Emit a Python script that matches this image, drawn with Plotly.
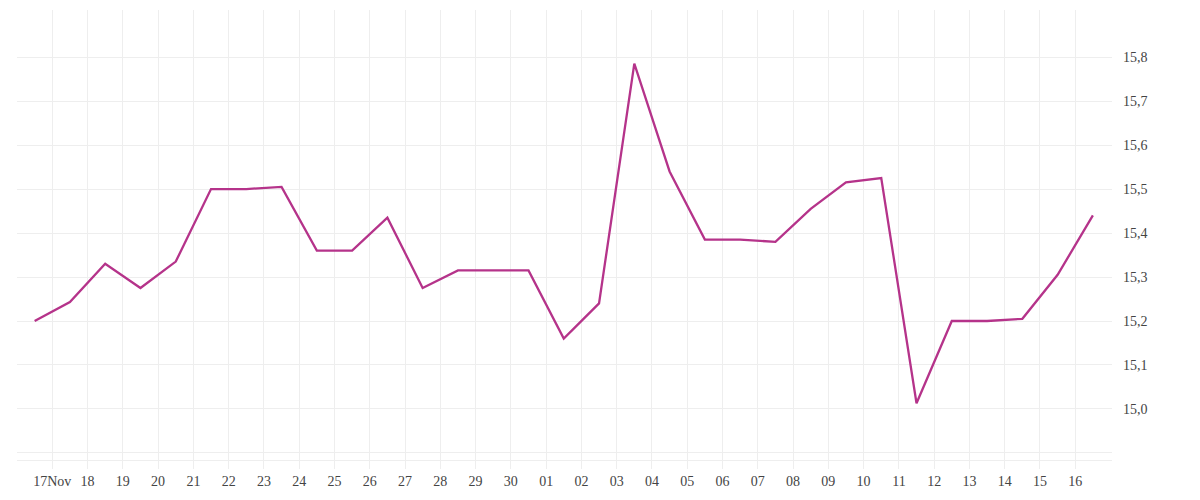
import plotly.graph_objects as go
import pandas as pd

dates = pd.date_range("2023-11-16 12:00", "2023-12-16 12:00", freq="D")
values = [15.20, 15.243, 15.33, 15.275, 15.335, 15.50, 15.50, 15.505, 15.36, 15.36,
          15.435, 15.275, 15.315, 15.315, 15.315, 15.16, 15.24, 15.785, 15.54, 15.385,
          15.385, 15.38, 15.455, 15.515, 15.525, 15.013, 15.20, 15.20, 15.205, 15.305, 15.44]
tick_dates = pd.date_range("2023-11-17", "2023-12-16", freq="D")
tick_labels = ["17Nov"] + [d.strftime("%d") for d in tick_dates[1:]]
y_ticks = [15.0, 15.1, 15.2, 15.3, 15.4, 15.5, 15.6, 15.7, 15.8]
y_labels = [f"{v:.1f}".replace(".", ",") for v in y_ticks]

fig = go.Figure(go.Scatter(x=dates, y=values, mode="lines",
                           line=dict(color="#b5338a", width=2.3)))
fig.update_layout(
    width=1200, height=500, plot_bgcolor="white", paper_bgcolor="white",
    margin=dict(l=9, r=96, t=2, b=48, autoexpand=False), showlegend=False,
    font=dict(family="Liberation Serif", size=14, color="#444"),
)
fig.update_xaxes(range=["2023-11-16 00:00", "2023-12-17 01:00"], tickvals=tick_dates,
                 ticktext=tick_labels, showgrid=True, gridcolor="#eeeeee",
                 ticks="outside", ticklen=8, tickcolor="#eeeeee", zeroline=False,
                 showline=True, linecolor="#eeeeee")
fig.update_yaxes(range=[14.884, 15.907], side="right", tickvals=[14.9] + y_ticks,
                 ticktext=[""] + y_labels, showgrid=True, gridcolor="#eeeeee",
                 zeroline=False, ticklabelstandoff=10)
fig.write_html("out.html")
